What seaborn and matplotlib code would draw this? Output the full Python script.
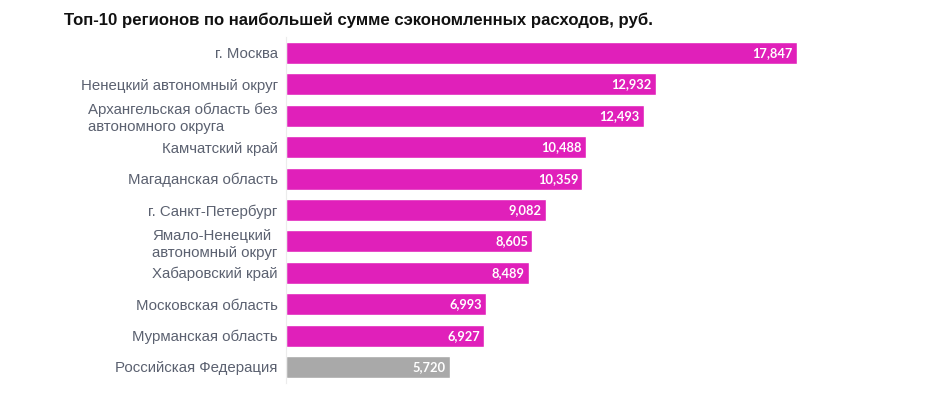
import matplotlib
matplotlib.use("Agg")
import matplotlib.pyplot as plt
import seaborn as sns
import pandas as pd

regions = [
    "г. Москва",
    "Ненецкий автономный округ",
    "Архангельская область без\nавтономного округа",
    "Камчатский край",
    "Магаданская область",
    "г. Санкт-Петербург",
    "Ямало-Ненецкий\nавтономный округ",
    "Хабаровский край",
    "Московская область",
    "Мурманская область",
    "Российская Федерация",
]
values = [17847, 12932, 12493, 10488, 10359, 9082, 8605, 8489, 6993, 6927, 5720]
groups = ["region"] * 10 + ["country"]

df = pd.DataFrame({"region": regions, "value": values, "group": groups})

sns.set_theme(style="white")
plt.rcParams["font.family"] = ["Liberation Sans", "DejaVu Sans"]

fig = plt.figure(figsize=(9.28, 4.11), dpi=100)
ax = fig.add_axes([0.3082, 0.0689, 0.586, 0.8404])

palette = {"region": "#E020BA", "country": "#A9A9A9"}
sns.barplot(data=df, x="value", y="region", hue="group", palette=palette,
            dodge=False, width=0.7, legend=False, ax=ax, saturation=1)

ax.set_xlim(0, 19000)
ax.set_ylim(10.5, -0.5)
ax.set_xlabel("")
ax.set_ylabel("")
ax.set_xticks([])
for s in ["top", "right", "bottom"]:
    ax.spines[s].set_visible(False)
ax.spines["left"].set_color("#ececec")
ax.spines["left"].set_linewidth(0.8)
ax.tick_params(axis="y", length=0, pad=6, labelsize=10.8, labelcolor="#5b6170")
for lbl in ax.get_yticklabels():
    lbl.set_multialignment("left")
    lbl.set_linespacing(1.25)

for i, v in enumerate(values):
    ax.text(v - 150, i, f"{v:,}", ha="right", va="center", color="white",
            fontsize=9.3, fontweight="bold", family=["Lato", "DejaVu Sans"])

fig.text(64 / 928, 1 - 20 / 411, "Топ-10 регионов по наибольшей сумме сэкономленных расходов, руб.",
         ha="left", va="center", fontsize=12.1, fontweight="bold", color="#111111")

fig.savefig("out.png", dpi=100)
